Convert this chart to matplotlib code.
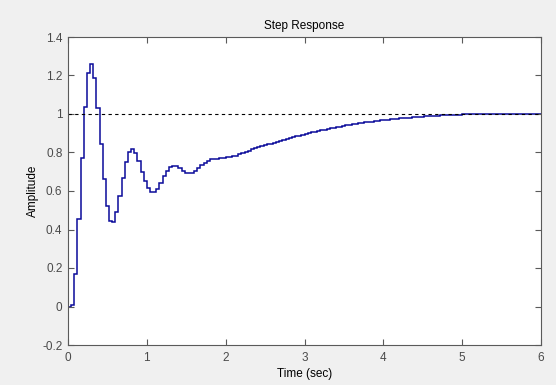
import numpy as np
import matplotlib
matplotlib.use("Agg")
import matplotlib.pyplot as plt

# sample period of the discrete step response (sec)
ts = 0.04

# amplitude of each sample (150 samples, 0..6 s)
amplitude = [
    0.000, 0.007, 0.167, 0.454, 0.771, 1.038, 1.211, 1.258, 1.185, 1.033,
    0.842, 0.661, 0.522, 0.444, 0.437, 0.489, 0.574, 0.668, 0.749, 0.801,
    0.818, 0.797, 0.756, 0.700, 0.652, 0.614, 0.593, 0.593, 0.612, 0.643,
    0.678, 0.704, 0.723, 0.728, 0.728, 0.720, 0.706, 0.695, 0.692, 0.695,
    0.704, 0.720, 0.735, 0.747, 0.757, 0.766, 0.767, 0.767, 0.769, 0.773,
    0.775, 0.778, 0.780, 0.783, 0.792, 0.797, 0.803, 0.810, 0.817, 0.823,
    0.829, 0.834, 0.838, 0.842, 0.846, 0.850, 0.855, 0.860, 0.865, 0.870,
    0.875, 0.879, 0.884, 0.888, 0.892, 0.896, 0.900, 0.904, 0.908, 0.912,
    0.915, 0.919, 0.922, 0.926, 0.929, 0.932, 0.935, 0.938, 0.941, 0.944,
    0.947, 0.949, 0.952, 0.954, 0.957, 0.959, 0.961, 0.963, 0.965, 0.967,
    0.969, 0.971, 0.972, 0.974, 0.976, 0.977, 0.979, 0.980, 0.981, 0.983,
    0.984, 0.985, 0.986, 0.988, 0.989, 0.990, 0.991, 0.992, 0.993, 0.994,
    0.995, 0.996, 0.996, 0.997, 0.997, 0.998, 0.998, 0.998, 0.999, 0.999,
    0.999, 1.000, 1.000, 1.000, 1.000, 1.000, 1.000, 1.000, 1.000, 1.000,
    1.000, 1.000, 1.000, 1.000, 1.000, 1.000, 1.000, 1.000, 1.000, 1.000,
]
final_value = 1.0

x_ticks = [0, 1, 2, 3, 4, 5, 6]
y_ticks = [-0.2, 0, 0.2, 0.4, 0.6, 0.8, 1, 1.2, 1.4]
y_tick_labels = ["-0.2", "0", "0.2", "0.4", "0.6", "0.8", "1", "1.2", "1.4"]

plt.rcParams["font.family"] = ["Liberation Sans", "DejaVu Sans"]

edges = np.arange(len(amplitude) + 1) * ts

fig = plt.figure(figsize=(5.56, 3.85), dpi=100, facecolor="#f0f0f0")
ax = fig.add_axes([68 / 556, 1 - 345 / 385, 473 / 556, 308 / 385])
ax.set_facecolor("white")

ax.axhline(final_value, color="black", linestyle=(0, (3, 3)), linewidth=0.8)
ax.stairs(amplitude, edges, baseline=None, color="#0a0a9a", linewidth=1.1)

ax.set_xlim(0, 6)
ax.set_ylim(-0.2, 1.4)
ax.set_xticks(x_ticks)
ax.set_xticklabels([str(v) for v in x_ticks])
ax.set_yticks(y_ticks)
ax.set_yticklabels(y_tick_labels)

ax.tick_params(direction="in", length=4, width=0.8, colors="#5a5a5a",
               labelcolor="#4a4a4a", labelsize=8.5, top=True, right=True)
ax.tick_params(axis="x", pad=5)
ax.tick_params(axis="y", pad=4)
for sp in ax.spines.values():
    sp.set_color("#5a5a5a")
    sp.set_linewidth(0.8)

ax.set_title("Step Response", fontsize=8.5, color="black", pad=6)
ax.set_xlabel("Time (sec)", fontsize=8.5, color="black", labelpad=3)
ax.set_ylabel("Amplitude", fontsize=8.5, color="black", labelpad=2)

fig.savefig("out.png", dpi=100, facecolor=fig.get_facecolor())
